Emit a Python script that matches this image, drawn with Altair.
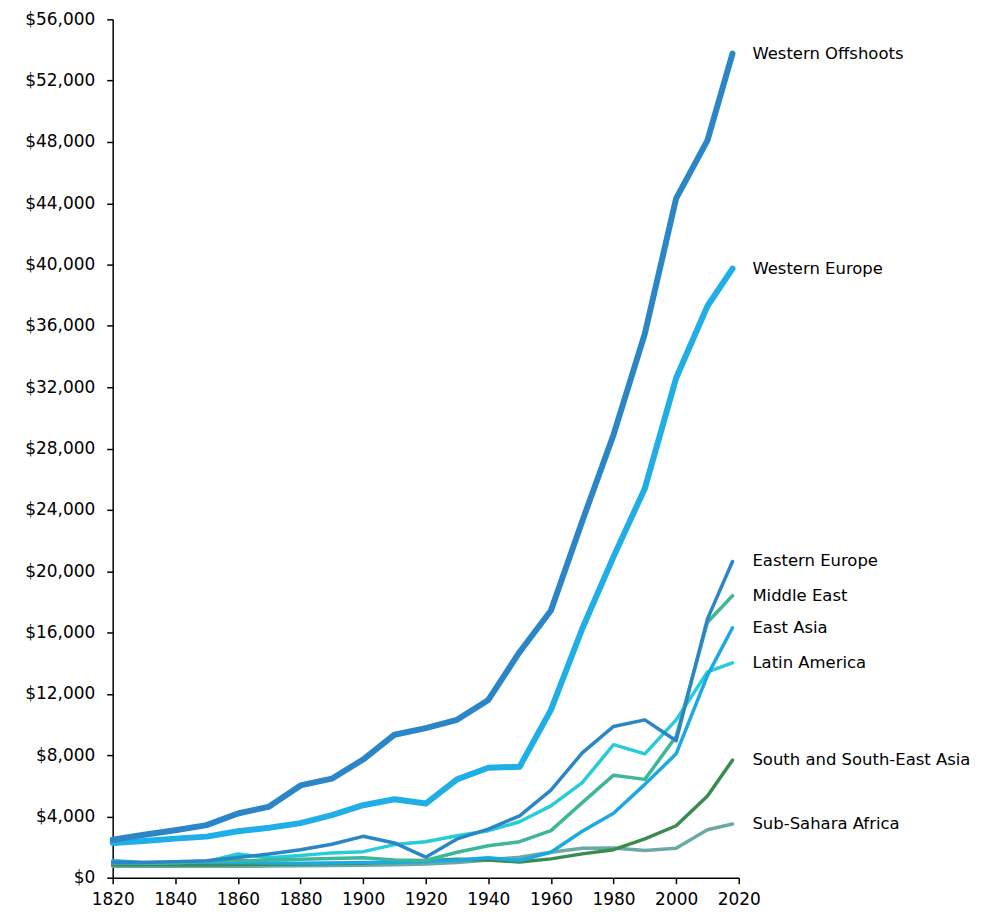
import altair as alt
import pandas as pd

years = [1820, 1830, 1840, 1850, 1860, 1870, 1880, 1890, 1900, 1910, 1920,
         1930, 1940, 1950, 1960, 1970, 1980, 1990, 2000, 2010, 2018]

western_offshoots = [2480, 2800, 3100, 3430, 4190, 4640, 6020, 6460, 7710, 9330, 9760,
                     10300, 11600, 14730, 17430, 23260, 28900, 35500, 44320, 48100, 53760]
western_europe = [2270, 2400, 2550, 2680, 3030, 3260, 3560, 4080, 4730, 5120, 4840,
                  6415, 7170, 7240, 10950, 16240, 20950, 25400, 32600, 37300, 39740]
eastern_europe = [1000, 1000, 1050, 1100, 1320, 1550, 1830, 2180, 2700, 2270, 1340,
                  2530, 3175, 4040, 5720, 8140, 9870, 10300, 8940, 16890, 20630]
middle_east = [950, 980, 1000, 1050, 1100, 1150, 1200, 1250, 1300, 1150, 1120,
               1660, 2090, 2350, 3070, 4900, 6690, 6415, 9220, 16670, 18400]
east_asia = [1100, 1000, 1000, 1000, 1000, 960, 950, 960, 1000, 1000, 1050,
             1150, 1300, 1120, 1660, 3030, 4210, 6090, 8080, 13200, 16310]
latin_america = [1000, 950, 980, 1050, 1550, 1300, 1450, 1620, 1700, 2160, 2350,
                 2740, 3070, 3650, 4690, 6200, 8680, 8080, 10300, 13430, 14020]
south_se_asia = [850, 850, 850, 850, 870, 880, 900, 920, 950, 1050, 1100,
                 1200, 1150, 1020, 1230, 1555, 1830, 2530, 3390, 5330, 7670]
sub_sahara = [750, 750, 750, 750, 750, 760, 780, 800, 820, 850, 900,
              1000, 1150, 1340, 1660, 1920, 1940, 1770, 1920, 3130, 3500]

series = {
    "Western Offshoots": western_offshoots,
    "Western Europe": western_europe,
    "Eastern Europe": eastern_europe,
    "Middle East": middle_east,
    "East Asia": east_asia,
    "Latin America": latin_america,
    "South and South-East Asia": south_se_asia,
    "Sub-Sahara Africa": sub_sahara,
}

# styles (kept separate from data)
thin_order = ["Sub-Sahara Africa", "South and South-East Asia", "Latin America",
              "East Asia", "Middle East", "Eastern Europe"]
thick_order = ["Western Europe", "Western Offshoots"]
colors = {
    "Western Offshoots": "#2A86C6",
    "Western Europe": "#1FAEE5",
    "Eastern Europe": "#2A86C6",
    "Middle East": "#3DB797",
    "East Asia": "#1CA9E3",
    "Latin America": "#27CCD9",
    "South and South-East Asia": "#3A8B50",
    "Sub-Sahara Africa": "#6CA9A4",
}

draw_order = thin_order + thick_order
rows = []
for name in draw_order:
    for y, v in zip(years, series[name]):
        rows.append({"series": name, "year": y, "value": v,
                     "order": draw_order.index(name),
                     "thick": name in thick_order})
df = pd.DataFrame(rows)

FONT = "DejaVu Sans"

x = alt.X("year:Q", scale=alt.Scale(domain=[1820, 2020], nice=False),
          axis=alt.Axis(values=list(range(1820, 2021, 20)), format="d", title=None,
                        grid=False, domainColor="black", tickColor="black",
                        domainWidth=1.5, tickWidth=1.5, tickSize=6, labelPadding=8,
                        labelFontSize=17, labelColor="black", labelFont=FONT,
                        labelFlush=False))
y = alt.Y("value:Q", scale=alt.Scale(domain=[0, 56000], nice=False),
          axis=alt.Axis(values=list(range(0, 56001, 4000)), format="$,.0f", title=None,
                        grid=False, domainColor="black", tickColor="black",
                        domainWidth=1.5, tickWidth=1.5, tickSize=6, labelPadding=12,
                        labelFontSize=17, labelColor="black", labelFont=FONT))

color = alt.Color("series:N", scale=alt.Scale(domain=list(colors.keys()),
                                              range=list(colors.values())), legend=None)

base = alt.Chart(df)

thin = base.transform_filter(alt.datum.thick == False).mark_line(
    strokeWidth=3.5, strokeCap="round", strokeJoin="round").encode(
    x=x, y=y, color=color, detail="series:N", order=alt.Order("year:Q"))

thick = base.transform_filter(alt.datum.thick == True).mark_line(
    strokeWidth=6, strokeCap="round", strokeJoin="round").encode(
    x=x, y=y, color=color, detail="series:N", order=alt.Order("year:Q"))

labels = base.transform_filter(alt.datum.year == 2018).mark_text(
    align="left", baseline="middle", dx=20, fontSize=16.5, font=FONT, color="black"
).encode(x="year:Q", y="value:Q", text="series:N")

chart = alt.layer(thin, thick, labels).properties(
    width=628, height=861,
    autosize=alt.AutoSizeParams(type="none"),
    padding={"left": 105, "top": 10, "right": 250, "bottom": 30},
).configure_view(stroke=None)

chart.save("out.html", embed_options={"renderer": "svg", "actions": False})
